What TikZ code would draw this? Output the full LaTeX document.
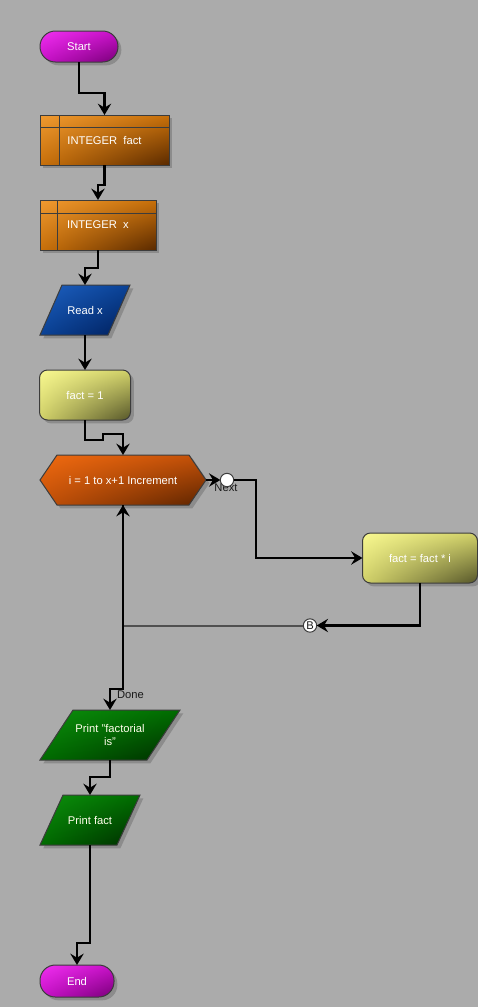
\documentclass[tikz,border=0pt]{standalone}
\usepackage{fontspec}
\setmainfont{Liberation Sans}
\usetikzlibrary{arrows.meta,calc,shadows,shadings}
\pgfdeclarelayer{back}
\pgfdeclarelayer{bg}
\pgfsetlayers{back,bg,main}
\definecolor{canvas}{HTML}{ABABAB}
\definecolor{bordergray}{HTML}{3C3C3C}
\definecolor{magL}{HTML}{F030F0}
\definecolor{magM}{HTML}{C810C8}
\definecolor{magD}{HTML}{780078}
\definecolor{orgL}{HTML}{F09A30}
\definecolor{orgM}{HTML}{C8700A}
\definecolor{orgD}{HTML}{5A2A00}
\definecolor{bluL}{HTML}{1E60C0}
\definecolor{bluM}{HTML}{0A4296}
\definecolor{bluD}{HTML}{001E5A}
\definecolor{yelL}{HTML}{F8F890}
\definecolor{yelM}{HTML}{D0D068}
\definecolor{yelD}{HTML}{55552A}
\definecolor{hexL}{HTML}{F06A10}
\definecolor{hexM}{HTML}{C25008}
\definecolor{hexD}{HTML}{5C2400}
\definecolor{grnL}{HTML}{0C900C}
\definecolor{grnM}{HTML}{006C00}
\definecolor{grnD}{HTML}{002A00}
\definecolor{lbltext}{HTML}{1A1A1A}
\definecolor{backgray}{HTML}{505050}
\tikzset{
  every node/.style={font=\fontsize{8.4}{9.6}\selectfont, text=white, outer sep=0pt},
  shadowed/.style={drop shadow={shadow xshift=2.5pt, shadow yshift=-2.5pt, opacity=0.18, fill=black}},
  boxline/.style={draw=bordergray, line width=0.75pt},
  grad/.style n args={3}{shade, shading=bilinear interpolation, upper left=#1, upper right=#2, lower left=#2, lower right=#3},
  term/.style={boxline, shadowed, grad={magL}{magM}{magD}, rounded corners=11.5pt, minimum height=23.25pt, inner sep=1pt},
  store/.style={boxline, shadowed, grad={orgL}{orgM}{orgD}, minimum height=37.5pt, inner sep=1pt},
  proc/.style={boxline, shadowed, grad={yelL}{yelM}{yelD}, rounded corners=6pt, minimum height=37.5pt, inner sep=1pt},
  holder/.style={draw=none, minimum height=37.5pt, inner sep=1pt},
  blueshape/.style={boxline, shadowed, grad={bluL}{bluM}{bluD}},
  greenshape/.style={boxline, shadowed, grad={grnL}{grnM}{grnD}},
  hexshape/.style={boxline, shadowed, grad={hexL}{hexM}{hexD}},
  connector/.style={circle, draw=bordergray, line width=0.75pt, fill=white, inner sep=0pt, minimum size=10pt, text=lbltext},
  lbl/.style={text=lbltext, inner sep=0pt},
  flow/.style={line width=1.6pt, draw=black, -{Stealth[length=8.5pt, width=10pt, inset=3pt]}},
  backline/.style={line width=1.5pt, draw=backgray},
  innerline/.style={draw=bordergray, line width=0.75pt},
}
\newcommand\plgshape[3]{%
  \begin{pgfonlayer}{bg}
    \path[#3] (#1.south west) -- ($(#1.north west)+(#2,0)$) -- (#1.north east) -- ($(#1.south east)+(-#2,0)$) -- cycle;
  \end{pgfonlayer}}
\begin{document}
\begin{tikzpicture}[x=0.75pt, y=-0.75pt]
  \useasboundingbox (0,0) rectangle (478,1007);
  \begin{pgfonlayer}{back}
    \fill[canvas] (0,0) rectangle (478,1007);
  \end{pgfonlayer}

  % nodes
  \node[term, minimum width=58.5pt] (st) at (79,46.5) {Start};
  \node[store, minimum width=96.75pt] (if) at (104.5,140) {INTEGER~ fact};
  \node[store, minimum width=87pt] (ix) at (98,225) {INTEGER~ x};
  \node[holder, minimum width=67.5pt] (rx) at (85,310) {Read x};
  \node[proc, minimum width=68.25pt] (f1) at (85,395) {fact = 1};
  \node[holder, minimum width=124.5pt] (loop) at (123,480) {i = 1 to x+1 Increment};
  \node[lbl] (nextlbl) at (226,487.5) {Next};
  \node[connector] (nx) at (227,480) {};
  \node[proc, minimum width=86.25pt] (fi) at (420,558) {fact = fact * i};
  \node[connector] (B) at (310,625.5) {B};
  \coordinate (j) at (123,625.5);
  \node[holder, minimum width=105pt, align=center, text=white!92!yellow] (p1) at (110,735) {Print "factorial\\is"};
  \node[holder, minimum width=75pt, text=white!92!yellow] (p2) at (90,820) {Print fact};
  \node[term, minimum width=55.5pt, minimum height=24pt] (en) at (77,981) {End};

  % shapes behind text
  \plgshape{rx}{22}{blueshape}
  \plgshape{p1}{33}{greenshape}
  \plgshape{p2}{23}{greenshape}
  \begin{pgfonlayer}{bg}
    \path[hexshape] (loop.west) -- ($(loop.north west)+(17,0)$) -- ($(loop.north east)+(-17,0)$)
      -- (loop.east) -- ($(loop.south east)+(-17,0)$) -- ($(loop.south west)+(17,0)$) -- cycle;
  \end{pgfonlayer}

  % storage box inner lines
  \draw[innerline] ($(if.north west)+(19,0)$) -- ($(if.south west)+(19,0)$);
  \draw[innerline] ($(if.north west)+(0,12)$) -- ($(if.north east)+(0,12)$);
  \draw[innerline] ($(ix.north west)+(17,0)$) -- ($(ix.south west)+(17,0)$);
  \draw[innerline] ($(ix.north west)+(0,13)$) -- ($(ix.north east)+(0,13)$);

  % connectors
  \draw[flow] (st.south) -- ++(0,31) -| (if.north);
  \draw[flow] (if.south) -- ++(0,20) -| (ix.north);
  \draw[flow] (ix.south) -- ++(0,18) -| (rx.north);
  \draw[flow] (rx.south) -- (f1.north);
  \draw[flow] (f1.south) -- ++(0,20) -- ++(18,0) -- ++(0,-6) -| (loop.north);
  \draw[flow] (loop.east) -- (nx.west);
  \draw[flow] (nx.east) -- ++(22,0) |- (fi.west);
  \draw[flow] (fi.south) |- (B.east);
  \draw[backline] (B.west) -- (j);
  \draw[flow] (j) -- (loop.south);
  \draw[flow] (loop.south) -- ++(0,184) -| (p1.north);
  \node[lbl, anchor=west] (done) at (117,695) {Done};
  \draw[flow] (p1.south) -- ++(0,17) -| (p2.north);
  \draw[flow] (p2.south) -- ++(0,98) -| (en.north);
\end{tikzpicture}
\end{document}
